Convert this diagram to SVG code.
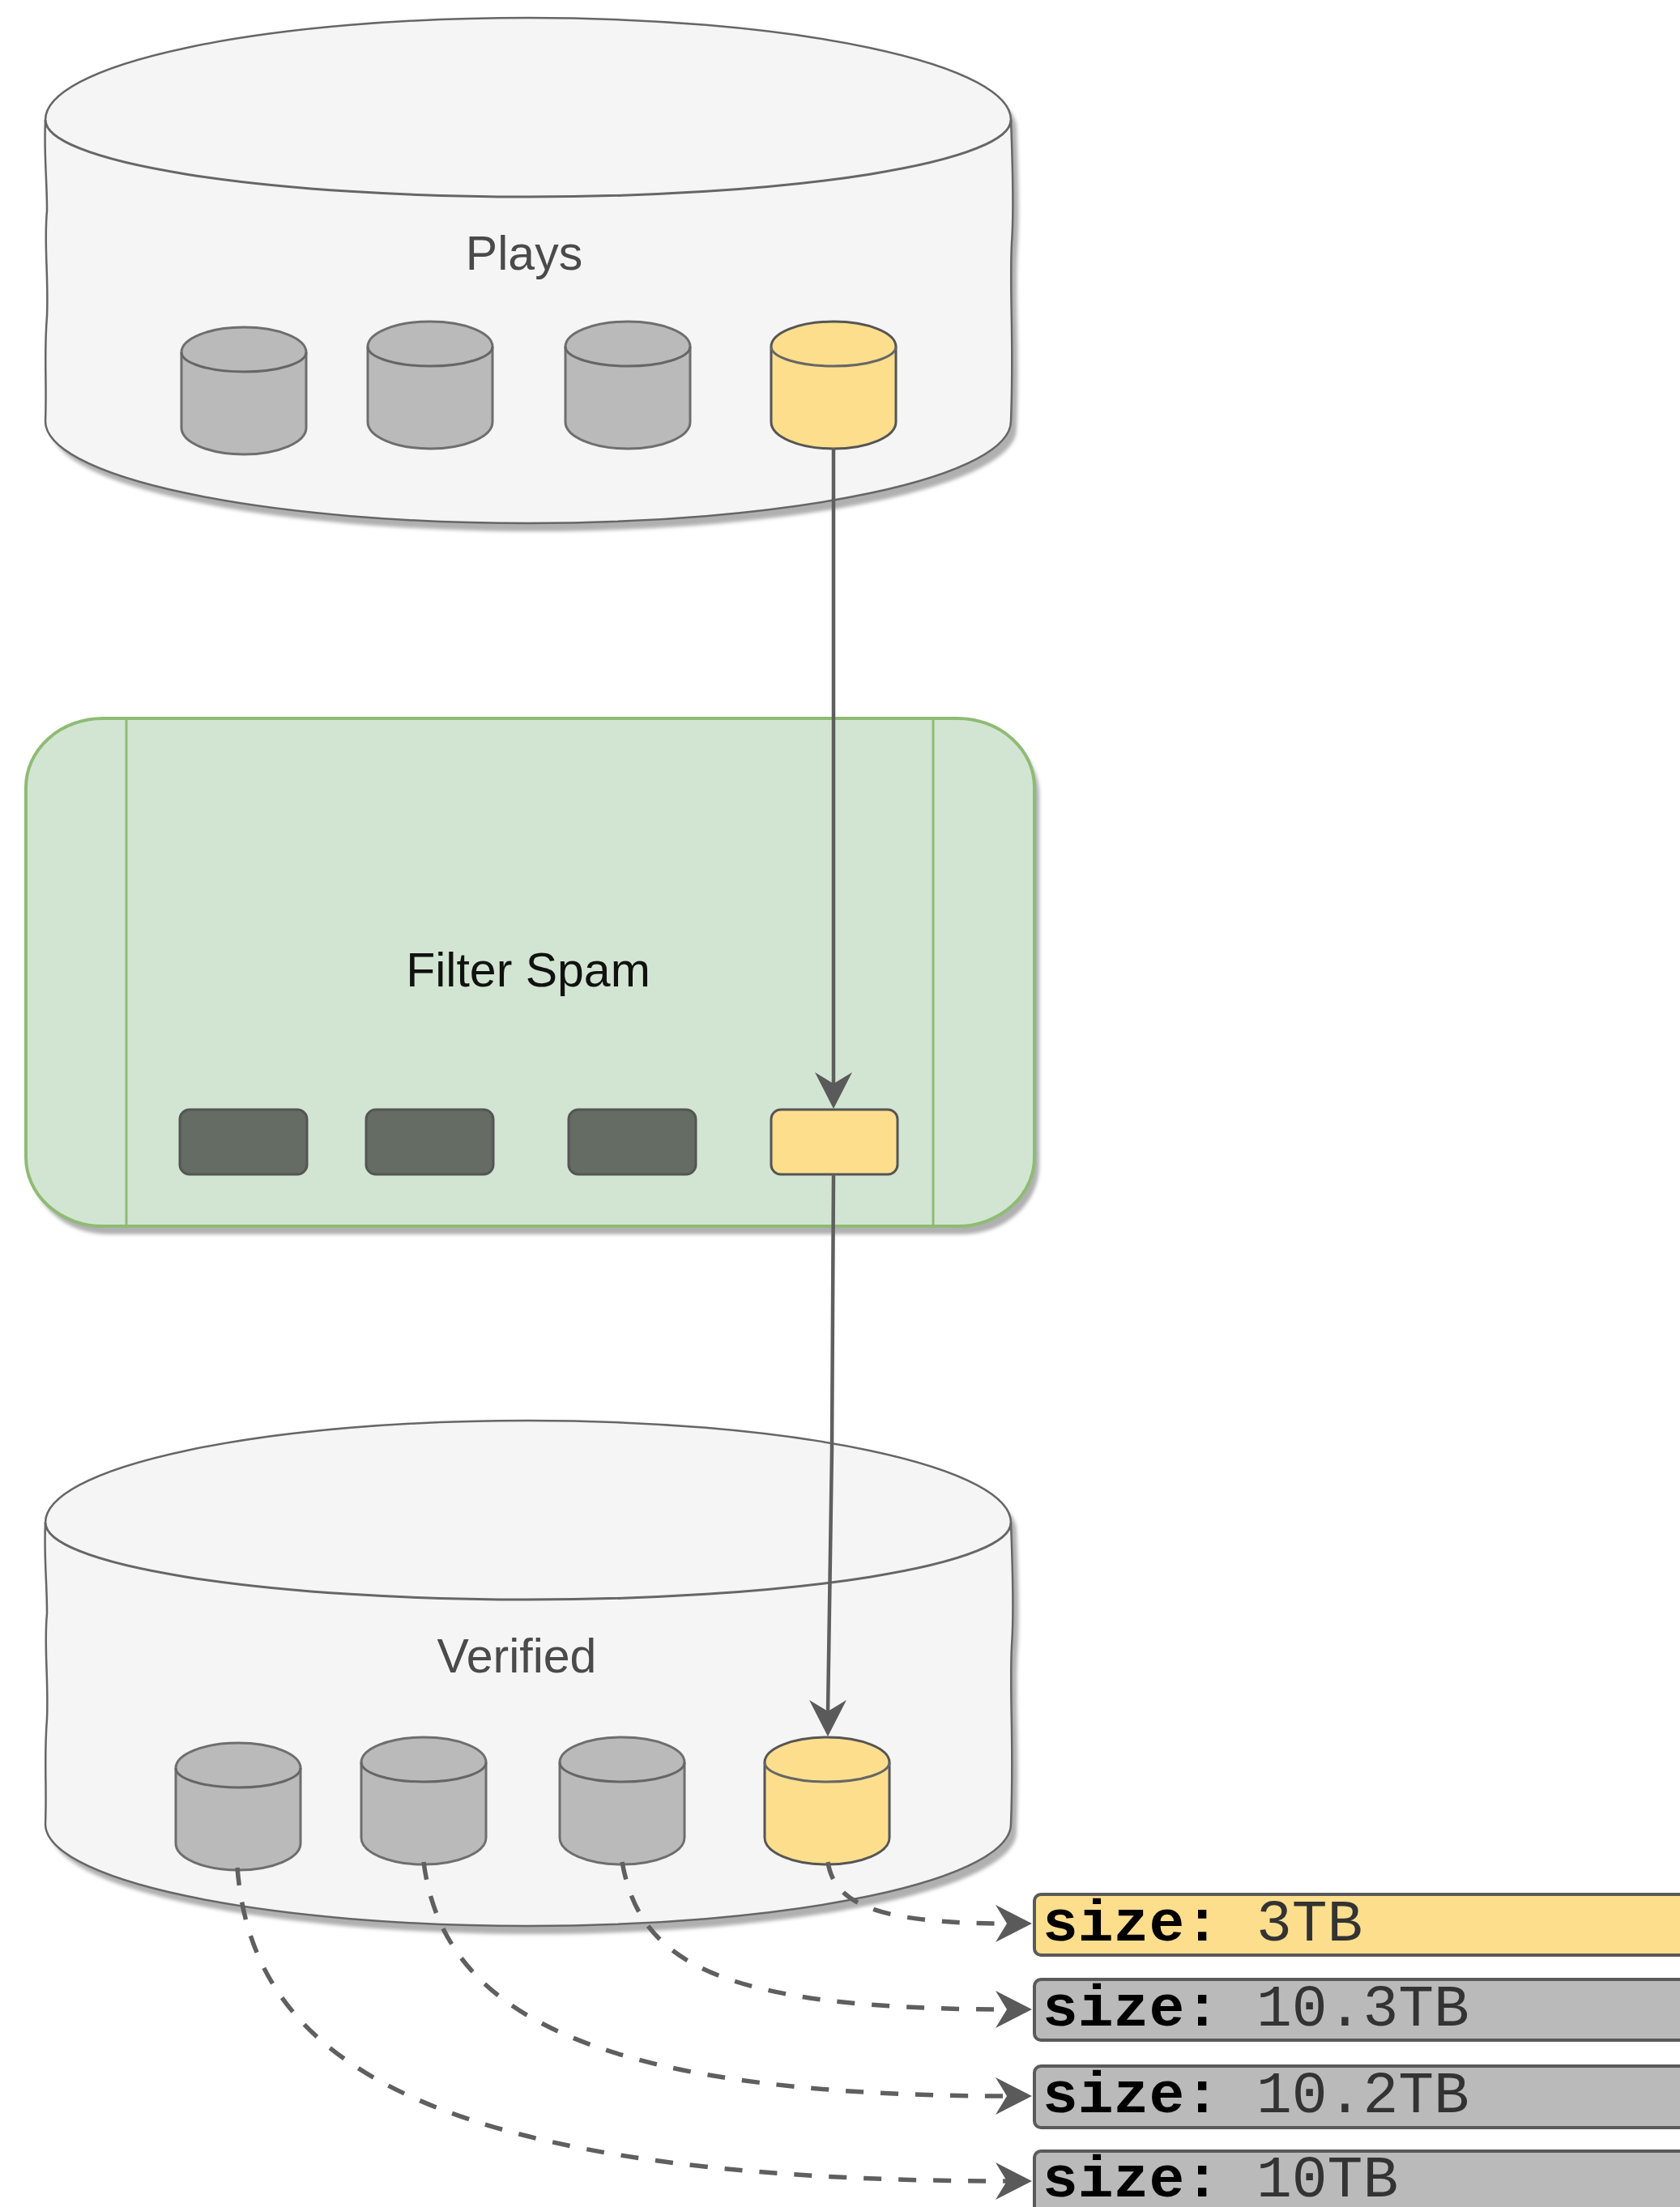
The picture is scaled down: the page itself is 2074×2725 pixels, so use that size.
<svg xmlns="http://www.w3.org/2000/svg" xmlns:xlink="http://www.w3.org/1999/xlink" width="2074" height="2725" viewBox="0 0 2074 2725">
<style>
text{font-family:"Liberation Sans",Arial,sans-serif}
.big{fill:#f5f5f5;stroke:#666;stroke-width:2.5}
.top{fill:none;stroke:#666;stroke-width:3}
.shadow{fill:#b0b0b0;stroke:none}
.grey{fill:#bababa;stroke:#6e6e6e;stroke-width:3}
.yel{fill:#fdde8d;stroke:#555;stroke-width:3}
.title{font-size:59px;text-anchor:middle}
.filt{fill:#646c63;stroke:#555;stroke-width:3}
.lab{stroke:#5a5a5a;stroke-width:4}
.mono{font-family:"Liberation Mono","Courier New",monospace;font-size:73px}
.key{font-weight:bold;fill:#000}
.val{fill:#333}
.conn{fill:none;stroke:#5f5f5f;stroke-width:4.5}
.dash{fill:none;stroke:#5f5f5f;stroke-width:5.5;stroke-dasharray:22 21}
.head{fill:#5a5a5a}
</style>
<defs>
<path id="bigbody" d="M56 148A596 126 0 0 1 1248 148C1250 200 1252 260 1249 300C1246 360 1252 420 1248 520A596 126 0 0 1 56 520C58 470 54 440 58 390C60 340 54 300 58 260C58 220 54 190 56 148Z"/>
<path id="bigtop" d="M56 148A596 95 0 0 0 1248 148"/>
<path id="small" d="M0 31A77 31 0 0 1 154 31L154 124A77 33 0 0 1 0 124Z"/>
<path id="smalltop" d="M0 31A77 24 0 0 0 154 31"/>
<path id="ah" d="M0 0L-23 -45L0 -31L23 -45Z"/>
<path id="ahr" d="M0 0L-45 -23L-31 0L-45 23Z"/>
<filter id="soft" x="-5%" y="-5%" width="110%" height="110%"><feGaussianBlur stdDeviation="2"/></filter>
</defs>

<g id="plays">
<use xlink:href="#bigbody" class="shadow" filter="url(#soft)" transform="translate(7,10)"/>
<use xlink:href="#bigbody" class="big"/>
<use xlink:href="#bigtop" class="top"/>
<text x="647" y="333" class="title" fill="#4a4a4a">Plays</text>
</g>
<g id="plays-p1" transform="translate(224,404)"><use xlink:href="#small" class="grey"/><use xlink:href="#smalltop" class="top"/></g>
<g id="plays-p2" transform="translate(454,397)"><use xlink:href="#small" class="grey"/><use xlink:href="#smalltop" class="top"/></g>
<g id="plays-p3" transform="translate(698,397)"><use xlink:href="#small" class="grey"/><use xlink:href="#smalltop" class="top"/></g>
<g id="plays-p4" transform="translate(952,397)"><use xlink:href="#small" class="yel"/><use xlink:href="#smalltop" class="top"/></g>

<g id="filter">
<rect x="38" y="896" width="1245" height="628" rx="95" ry="85" class="shadow" filter="url(#soft)"/>
<rect x="32" y="887" width="1245" height="627" rx="95" ry="85" fill="#d2e5d2" stroke="#8fbb74" stroke-width="4"/>
<path d="M156 887V1514M1152 887V1514" fill="none" stroke="#8fbb74" stroke-width="3"/>
<text x="652" y="1218" class="title" fill="#111">Filter Spam</text>
</g>
<g id="filter-p1"><rect x="222" y="1370" width="157" height="80" rx="12" class="filt"/></g>
<g id="filter-p2"><rect x="452" y="1370" width="157" height="80" rx="12" class="filt"/></g>
<g id="filter-p3"><rect x="702" y="1370" width="157" height="80" rx="12" class="filt"/></g>
<g id="filter-p4"><rect x="952" y="1370" width="156" height="80" rx="12" class="yel"/></g>

<g id="verified" transform="translate(0,1732)">
<use xlink:href="#bigbody" class="shadow" filter="url(#soft)" transform="translate(7,10)"/>
<use xlink:href="#bigbody" class="big"/>
<use xlink:href="#bigtop" class="top"/>
<text x="638" y="333" class="title" fill="#4a4a4a">Verified</text>
</g>
<g id="verified-p1" transform="translate(217,2152)"><use xlink:href="#small" class="grey"/><use xlink:href="#smalltop" class="top"/></g>
<g id="verified-p2" transform="translate(446,2145)"><use xlink:href="#small" class="grey"/><use xlink:href="#smalltop" class="top"/></g>
<g id="verified-p3" transform="translate(691,2145)"><use xlink:href="#small" class="grey"/><use xlink:href="#smalltop" class="top"/></g>
<g id="verified-p4" transform="translate(944,2145)"><use xlink:href="#small" class="yel"/><use xlink:href="#smalltop" class="top"/></g>

<g id="label-1"><rect x="1277" y="2339" width="820" height="75" rx="8" fill="#fdde8d" class="lab"/><text x="1287" y="2396" class="mono"><tspan class="key">size:</tspan><tspan class="val" x="1551">3TB</tspan></text></g>
<g id="label-2"><rect x="1277" y="2444" width="820" height="75" rx="8" fill="#bababa" class="lab"/><text x="1287" y="2501" class="mono"><tspan class="key">size:</tspan><tspan class="val" x="1551">10.3TB</tspan></text></g>
<g id="label-3"><rect x="1277" y="2551" width="820" height="76" rx="8" fill="#bababa" class="lab"/><text x="1287" y="2608" class="mono"><tspan class="key">size:</tspan><tspan class="val" x="1551">10.2TB</tspan></text></g>
<g id="label-4"><rect x="1277" y="2656" width="820" height="90" rx="8" fill="#bababa" class="lab"/><text x="1287" y="2712" class="mono"><tspan class="key">size:</tspan><tspan class="val" x="1551">10TB</tspan></text></g>

<g id="connectors">
<path class="conn" d="M1029 553V1340"/>
<use xlink:href="#ah" class="head" transform="translate(1029,1369)"/>
<path class="conn" d="M1029 1450L1027 1790L1022 2115"/>
<use xlink:href="#ah" class="head" transform="translate(1022,2144)"/>
<path class="dash" d="M1022 2299C1030 2350 1080 2375 1245 2375"/>
<use xlink:href="#ahr" class="head" transform="translate(1274,2375)"/>
<path class="dash" d="M768 2299C790 2420 880 2481 1245 2481"/>
<use xlink:href="#ahr" class="head" transform="translate(1274,2481)"/>
<path class="dash" d="M523 2299C545 2470 700 2588 1245 2588"/>
<use xlink:href="#ahr" class="head" transform="translate(1274,2588)"/>
<path class="dash" d="M293 2306C310 2520 480 2693 1245 2693"/>
<use xlink:href="#ahr" class="head" transform="translate(1274,2693)"/>
</g>
</svg>
